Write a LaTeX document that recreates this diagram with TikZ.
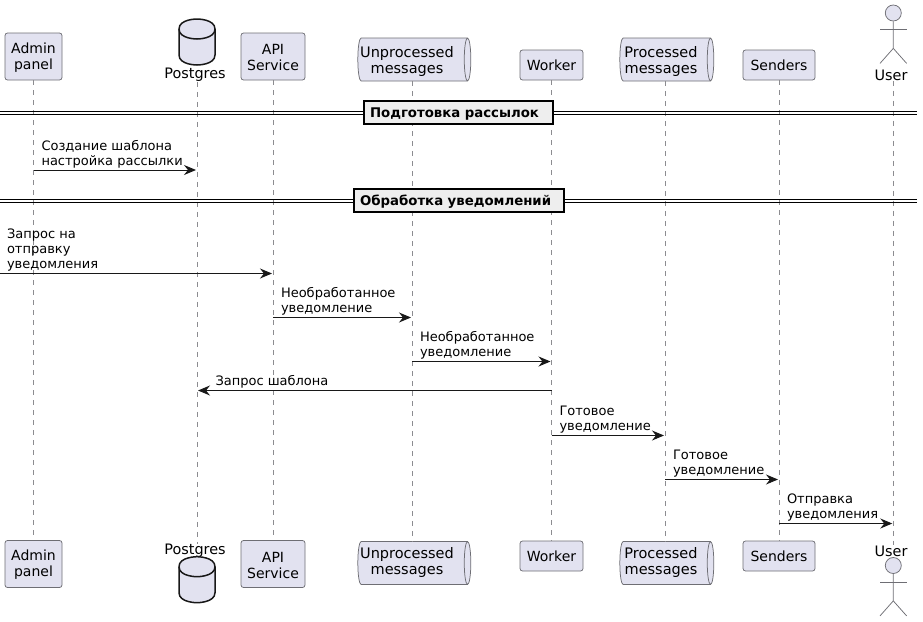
\documentclass[tikz,border=0pt]{standalone}
\usepackage{fontspec}
\setmainfont{DejaVu Sans}
\usetikzlibrary{arrows.meta,shapes.geometric}
\definecolor{partfill}{HTML}{E2E2F0}
\definecolor{partline}{HTML}{6E6E74}
\definecolor{lifeline}{HTML}{8C8C90}
\definecolor{msgline}{HTML}{181818}
\definecolor{divfill}{HTML}{EEEEEE}

\begin{document}
\begin{tikzpicture}[
    x=1pt, y=-1pt,
    part/.style={rectangle, draw=partline, line width=0.75pt, fill=partfill, rounded corners=2.5pt, align=center, inner sep=0pt, font=\fontsize{14}{16}\selectfont},
    twoline/.style={text height=28.5pt},
    queue/.style={cylinder, draw=partline, line width=0.75pt, fill=partfill, shape aspect=0.9, inner sep=0pt, minimum height=113pt, minimum width=43pt},
    queuetext/.style={align=center, inner sep=0pt, font=\fontsize{14.5}{16}\selectfont},
    dbshape/.style={draw=msgline, line width=1.5pt, fill=partfill},
    plainname/.style={inner sep=0pt, yshift=-2pt, font=\fontsize{14.4}{16}\selectfont},
    head/.style={circle, draw=partline, line width=0.75pt, fill=partfill, minimum size=16pt, inner sep=0pt},
    limb/.style={draw=partline, line width=0.75pt},
    life/.style={draw=lifeline, line width=0.75pt, dash pattern=on 5pt off 5pt},
    msg/.style={-{Stealth[length=12pt,width=10pt,inset=4pt]}, shorten >=1pt, draw=msgline, line width=1pt},
    msgtext/.style={anchor=south west, align=left, inner sep=0pt, yshift=1.5pt, font=\fontsize{13}{15}\selectfont},
    divline/.style={draw=black, line width=1pt},
    divbox/.style={rectangle, draw=black, line width=2pt, fill=divfill, inner xsep=6pt, inner ysep=0pt, align=left, text height=12.5pt, text depth=3.5pt, minimum height=23pt, font=\fontsize{13.3}{15}\selectfont\bfseries}
]
    \useasboundingbox (0,0) rectangle (923,621);

    % top row
    \node[part, twoline, minimum width=57pt, minimum height=47pt] (admin) at (33.5,56.5) {Admin\\panel};
    \coordinate (dbtop) at (197,42);
    \node[plainname] (postgres) at (195,73) {Postgres};
    \node[part, twoline, minimum width=64pt, minimum height=47pt] (api) at (273,56.5) {API\\Service};
    \node[queue] (unproc) at (412.5,59.5) {\phantom{M}};
    \node[queuetext, xshift=-5.5pt, yshift=-1.5pt] (unproctext) at (unproc) {Unprocessed\\messages};
    \node[part, minimum width=63pt, minimum height=30pt] (worker) at (551.5,65) {Worker};
    \node[queue, minimum height=94pt] (proc) at (665,59.5) {\phantom{M}};
    \node[queuetext, xshift=-4pt, yshift=-1.5pt] (proctext) at (proc) {Processed\\messages};
    \node[part, minimum width=72pt, minimum height=30pt] (senders) at (779,65) {Senders};
    \node[head] (headtop) at (893.3,13) {};
    \node[plainname] (user) at (891,73) {User};

    % bottom row
    \node[part, twoline, minimum width=57pt, minimum height=47pt] (adminb) at (33.5,564) {Admin\\panel};
    \node[plainname] (postgresb) at (195,549) {Postgres};
    \coordinate (dbbot) at (197,579.7);
    \node[part, twoline, minimum width=64pt, minimum height=47pt] (apib) at (273,564) {API\\Service};
    \node[queue] (unprocb) at (412.5,563) {\phantom{M}};
    \node[queuetext, xshift=-5.5pt, yshift=0.5pt] (unprocbtext) at (unprocb) {Unprocessed\\messages};
    \node[part, minimum width=63pt, minimum height=30pt] (workerb) at (551.5,556) {Worker};
    \node[queue, minimum height=94pt] (procb) at (665,563) {\phantom{M}};
    \node[queuetext, xshift=-4pt, yshift=0.5pt] (procbtext) at (procb) {Processed\\messages};
    \node[part, minimum width=72pt, minimum height=30pt] (sendersb) at (779,556) {Senders};
    \node[plainname] (userb) at (891,549) {User};
    \node[head] (headbot) at (893.3,565.5) {};

    % database barrels
    \foreach \d in {dbtop, dbbot} {
        \filldraw[dbshape, shift={(\d)}] (-18,-13) .. controls (-18,-23) and (0,-23) .. (0,-23) .. controls (0,-23) and (18,-23) .. (18,-13)
            -- (18,13) .. controls (18,23) and (0,23) .. (0,23) .. controls (0,23) and (-18,23) .. (-18,13) -- cycle;
        \draw[dbshape, fill=none, shift={(\d)}] (-18,-13) .. controls (-18,-3) and (0,-3) .. (0,-3) .. controls (0,-3) and (18,-3) .. (18,-13);
    }

    % stick figures
    \foreach \h in {headtop, headbot} {
        \draw[limb] (\h.south) -- ++(0,27) coordinate (\h hip) -- ++(-13.3,15);
        \draw[limb] (\h hip) -- ++(13.3,15);
        \draw[limb] ([xshift=-13.3pt,yshift=-8pt]\h.south) -- ([xshift=13.3pt,yshift=-8pt]\h.south);
    }

    % lifelines
    \foreach \a/\b in {admin/adminb, api/apib, worker/workerb, senders/sendersb}
        \draw[life] (\a.south) -- (\b.north);
    \draw[life] (dbtop |- postgres.south) -- (dbtop |- postgresb.north);
    \draw[life] (412,81) coordinate (unproclife) -- (unproclife |- unprocb.north);
    \draw[life] (665,81) coordinate (proclife) -- (proclife |- procb.north);
    \draw[life] (headtop |- user.south) -- (headtop |- userb.north);

    % message rows
    \coordinate (m1) at (0,170);
    \coordinate (m2) at (0,273.5);
    \coordinate (m3) at (0,317.5);
    \coordinate (m4) at (0,361.5);
    \coordinate (m5) at (0,390.5);
    \coordinate (m6) at (0,435.5);
    \coordinate (m7) at (0,479.5);
    \coordinate (m8) at (0,523.5);

    % dividers
    \coordinate (d1l) at (0,111.5);
    \coordinate (d1r) at (917,111.5);
    \coordinate (d2l) at (0,199.5);
    \coordinate (d2r) at (917,199.5);
    \draw[divline] (d1l) -- (d1r);
    \draw[divline] ([yshift=-3pt]d1l) -- ([yshift=-3pt]d1r);
    \draw[divline] (d2l) -- (d2r);
    \draw[divline] ([yshift=-3pt]d2l) -- ([yshift=-3pt]d2r);
    \node[divbox, text width=177pt] (prep) at (458.5,112.5) {Подготовка рассылок};
    \node[divbox, text width=198pt] (notif) at (459,200.5) {Обработка уведомлений};

    % messages
    \draw[msg] (admin |- m1) -- (dbtop |- m1) node[msgtext, pos=0, xshift=7.5pt] {Создание шаблона\\настройка рассылки};
    \draw[msg] (m2) -- (api |- m2) node[msgtext, pos=0, xshift=6.5pt] {Запрос на\\отправку\\уведомления};
    \draw[msg] (api |- m3) -- (unproclife |- m3) node[msgtext, pos=0, xshift=7.5pt] {Необработанное\\уведомление};
    \draw[msg] (unproclife |- m4) -- (worker |- m4) node[msgtext, pos=0, xshift=7.5pt] {Необработанное\\уведомление};
    \draw[msg] (worker |- m5) -- (dbtop |- m5) node[msgtext, pos=1, xshift=18pt] {Запрос шаблона};
    \draw[msg] (worker |- m6) -- (proclife |- m6) node[msgtext, pos=0, xshift=7.5pt] {Готовое\\уведомление};
    \draw[msg] (proclife |- m7) -- (senders |- m7) node[msgtext, pos=0, xshift=7.5pt] {Готовое\\уведомление};
    \draw[msg] (senders |- m8) -- (headtop |- m8) node[msgtext, pos=0, xshift=7.5pt] {Отправка\\уведомления};
\end{tikzpicture}
\end{document}
